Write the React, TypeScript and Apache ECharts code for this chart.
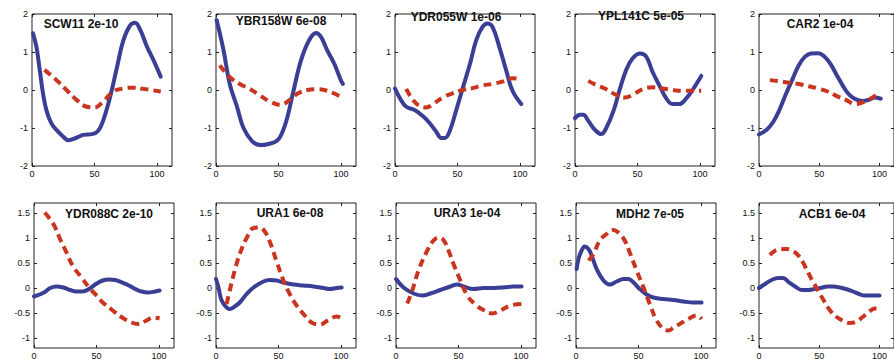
import React, { useEffect, useRef } from "react";
import * as echarts from "echarts";

// ---------- data ----------
const geneNames = ["SCW11", "YBR158W", "YDR055W", "YPL141C", "CAR2", "YDR088C", "URA1", "URA3", "MDH2", "ACB1"];
const pValues = ["2e-10", "6e-08", "1e-06", "5e-05", "1e-04", "2e-10", "6e-08", "1e-04", "7e-05", "6e-04"];
const xTickValues = [0, 50, 100];
const yTicksTop = [-2, -1, 0, 1, 2];
const yTicksBottom = [-1, -0.5, 0, 0.5, 1, 1.5];

const scw11Blue = [[0.8, 1.49], [3.5, 1.14], [6.2, 0.53], [8.8, -0.09], [11.5, -0.53], [15.5, -0.88], [19.6, -1.05], [25, -1.23], [29, -1.32], [36, -1.25], [41, -1.18], [48, -1.16], [53, -1.07], [57, -0.8], [62.5, -0.18], [68, 0.6], [73, 1.3], [78.5, 1.7], [82.5, 1.77], [86.6, 1.58], [92, 1.14], [97, 0.8], [103, 0.35]];
const scw11Red = [[10, 0.53], [19.6, 0.26], [27.6, 0], [35.6, -0.26], [43.7, -0.44], [50, -0.46], [57, -0.3], [65, -0.04], [73, 0.04], [81, 0.06], [89, 0.03], [103, -0.04]];

const ybr158wBlue = [[0.5, 1.84], [6, 1.05], [11, 0.16], [17, -0.46], [22, -1.0], [29, -1.35], [35.5, -1.45], [42, -1.42], [49, -1.33], [53, -1.12], [57, -0.73], [62, -0.02], [68, 0.78], [74.5, 1.31], [80, 1.5], [84, 1.4], [89, 1.04], [94.6, 0.69], [100, 0.25], [101.5, 0.16]];
const ybr158wRed = [[3, 0.65], [11, 0.34], [19, 0.16], [27, 0.03], [35.5, -0.15], [43.5, -0.31], [51.6, -0.39], [59.7, -0.24], [65, -0.1], [73, 0.0], [81, 0.02], [89, -0.02], [100, -0.18]];

const ydr055wBlue = [[0, 0.04], [4, -0.22], [9, -0.44], [16, -0.53], [22.5, -0.69], [28, -0.88], [33, -1.1], [37, -1.26], [40, -1.26], [44, -1.06], [49, -0.53], [54, 0.03], [60, 0.69], [65, 1.31], [70, 1.66], [74, 1.75], [78, 1.66], [83.5, 1.13], [89, 0.51], [94, -0.02], [101, -0.37]];
const ydr055wRed = [[9, 0.03], [14.5, -0.27], [21, -0.44], [25, -0.46], [30.5, -0.37], [38.5, -0.19], [46, -0.09], [54, 0.0], [62, 0.05], [70, 0.12], [78, 0.16], [86, 0.22], [94, 0.31], [101, 0.29]];

const ypl141cBlue = [[0, -0.74], [4, -0.65], [6.6, -0.65], [10.6, -0.81], [16, -1.05], [21, -1.16], [25, -1.0], [31, -0.53], [36, 0.04], [41, 0.53], [46, 0.83], [52, 0.96], [57, 0.88], [62, 0.48], [68, 0.09], [73, -0.22], [78, -0.37], [83.5, -0.37], [89, -0.22], [94, 0.0], [101, 0.37]];
const ypl141cRed = [[10.6, 0.24], [17, 0.13], [25, 0.02], [33, -0.13], [40, -0.2], [46, -0.13], [54, 0.02], [62, 0.07], [70, 0.04], [78, 0.0], [86, -0.02], [94, -0.02], [101, -0.02]];

const car2Blue = [[0, -1.17], [6.6, -1.04], [12, -0.83], [17, -0.52], [22, -0.13], [28, 0.3], [33, 0.65], [38, 0.87], [43, 0.96], [49, 0.97], [54, 0.89], [59, 0.7], [64.5, 0.39], [70, 0.09], [75, -0.13], [80, -0.24], [85.5, -0.29], [91, -0.26], [96, -0.2], [101, -0.23]];
const car2Red = [[9, 0.26], [17, 0.23], [25, 0.19], [33, 0.16], [41, 0.1], [49, 0.04], [57, -0.04], [64.5, -0.16], [72, -0.26], [80, -0.37], [85.5, -0.33], [91, -0.26], [96, -0.16], [100, -0.13]];

const ydr088cBlue = [[0, -0.17], [8, -0.09], [13, 0.0], [18, 0.03], [23.5, 0.01], [29, -0.04], [34, -0.07], [39, -0.07], [44, -0.02], [49.6, 0.08], [55, 0.15], [60, 0.17], [65, 0.16], [70.5, 0.11], [76, 0.05], [81, -0.02], [86, -0.07], [91, -0.09], [97, -0.07], [100.5, -0.05]];
const ydr088cRed = [[8.6, 1.51], [15.7, 1.27], [21, 0.97], [26, 0.71], [31, 0.44], [38, 0.21], [44, 0.01], [50, -0.15], [55, -0.29], [63, -0.45], [70.5, -0.59], [78, -0.69], [83.5, -0.72], [90, -0.65], [95, -0.59], [100.5, -0.61]];

const ura1Blue = [[0, 0.18], [2, 0.01], [4.5, -0.25], [8.5, -0.39], [11, -0.42], [15, -0.37], [19, -0.29], [24.5, -0.12], [30, 0.01], [38, 0.13], [43, 0.16], [48.5, 0.15], [54, 0.11], [62, 0.07], [70, 0.05], [78, 0.03], [86, 0.0], [91, -0.02], [96.5, 0.0], [100.5, 0.01]];
const ura1Red = [[8.5, -0.32], [11, -0.05], [15, 0.35], [19, 0.68], [24.5, 1.0], [30, 1.2], [35, 1.21], [39, 1.13], [43, 0.93], [48.5, 0.53], [54, 0.15], [59, -0.12], [64.5, -0.35], [70, -0.52], [76.5, -0.69], [83, -0.73], [90, -0.64], [96.5, -0.57], [100.5, -0.6]];

const ura3Blue = [[0, 0.18], [6, 0.01], [14, -0.11], [21, -0.15], [27.5, -0.11], [35.5, -0.04], [43.5, 0.03], [49, 0.07], [54, 0.03], [62, -0.02], [70, 0.0], [78, 0.0], [86, 0.01], [94, 0.03], [100.5, 0.03]];
const ura3Red = [[9, -0.31], [13, -0.05], [18, 0.35], [25, 0.75], [30, 0.95], [34, 1.01], [38, 0.96], [42, 0.75], [46, 0.48], [51.5, 0.15], [57, -0.15], [63.5, -0.33], [70, -0.44], [77, -0.51], [83.5, -0.45], [91.5, -0.35], [100.5, -0.32]];

const mdh2Blue = [[0.5, 0.38], [2, 0.58], [4.5, 0.75], [7, 0.83], [10, 0.78], [12.5, 0.65], [16.5, 0.38], [22, 0.15], [27, 0.07], [32.5, 0.13], [38, 0.18], [42, 0.18], [46, 0.11], [51, -0.02], [56.5, -0.13], [62, -0.19], [70, -0.22], [78, -0.24], [86, -0.27], [94, -0.29], [100.5, -0.29]];
const mdh2Red = [[10, 0.55], [14, 0.68], [19, 0.95], [24.5, 1.08], [30, 1.16], [35, 1.08], [39, 0.95], [43, 0.71], [48.5, 0.35], [54, 0.01], [59, -0.32], [64.5, -0.65], [70, -0.82], [74, -0.85], [78, -0.79], [83, -0.72], [90, -0.62], [96.5, -0.55], [100.5, -0.62]];

const acb1Blue = [[0, 0.0], [5, 0.08], [10.5, 0.16], [16, 0.2], [20, 0.2], [25, 0.11], [30, 0.03], [35.5, -0.04], [41, -0.04], [46, -0.02], [51, 0.0], [57, 0.03], [62, 0.03], [67, 0.01], [72, -0.02], [78, -0.07], [83, -0.12], [88, -0.15], [93, -0.15], [100, -0.15]];
const acb1Red = [[9, 0.66], [13, 0.74], [17, 0.77], [22, 0.78], [27.5, 0.75], [33, 0.64], [38, 0.44], [43.5, 0.18], [49, -0.05], [54, -0.26], [59, -0.45], [64.5, -0.58], [70, -0.66], [75, -0.7], [80, -0.68], [85.5, -0.59], [91, -0.48], [96, -0.41], [100, -0.41]];

const blueLines = [scw11Blue, ybr158wBlue, ydr055wBlue, ypl141cBlue, car2Blue, ydr088cBlue, ura1Blue, ura3Blue, mdh2Blue, acb1Blue];
const redLines = [scw11Red, ybr158wRed, ydr055wRed, ypl141cRed, car2Red, ydr088cRed, ura1Red, ura3Red, mdh2Red, acb1Red];

// ---------- layout / style ----------
const colLeftsTop = [32, 216, 395, 575, 759];
const colLeftsBottom = [34, 216, 396, 576, 759];
const titleCenters = [[81, 24], [281, 21], [456, 17], [641, 16], [820, 24], [109, 214], [290, 213], [467, 213], [650, 214], [832, 214]];
const BLUE = "#3a3e94";
const RED = "#c9351f";
const FONT = "'Liberation Sans', Arial, sans-serif";

function buildOption() {
  const grid: any[] = [];
  const xAxis: any[] = [];
  const yAxis: any[] = [];
  const series: any[] = [];
  const graphic: any[] = [];
  for (let i = 0; i < 10; i++) {
    const bottom = i >= 5;
    const col = i % 5;
    grid.push({
      left: bottom ? colLeftsBottom[col] : colLeftsTop[col],
      top: bottom ? 203 : 14,
      width: 140,
      height: bottom ? 145 : 152,
      show: true,
      borderColor: "#222",
      borderWidth: 1,
      backgroundColor: "transparent",
    });
    const yTicks = bottom ? yTicksBottom : yTicksTop;
    const tickCommon = { inside: true, length: 3, lineStyle: { color: "#222", width: 1 } };
    const lineHidden = { show: false, onZero: false };
    xAxis.push({
      type: "value", gridIndex: i, min: 0, max: 112, position: "bottom",
      axisLine: lineHidden, splitLine: { show: false },
      axisTick: { ...tickCommon, customValues: xTickValues },
      axisLabel: { customValues: xTickValues, fontSize: 9, color: "#111", margin: 3, fontFamily: FONT },
    });
    xAxis.push({
      type: "value", gridIndex: i, min: 0, max: 112, position: "top",
      axisLine: lineHidden, splitLine: { show: false },
      axisTick: { ...tickCommon, customValues: xTickValues },
      axisLabel: { show: false },
    });
    yAxis.push({
      type: "value", gridIndex: i, min: bottom ? -1.2 : -2, max: bottom ? 1.7 : 2, position: "left",
      axisLine: lineHidden, splitLine: { show: false },
      axisTick: { ...tickCommon, customValues: yTicks },
      axisLabel: { customValues: yTicks, fontSize: 9, color: "#111", margin: 4, fontFamily: FONT },
    });
    yAxis.push({
      type: "value", gridIndex: i, min: bottom ? -1.2 : -2, max: bottom ? 1.7 : 2, position: "right",
      axisLine: lineHidden, splitLine: { show: false },
      axisTick: { ...tickCommon, customValues: yTicks },
      axisLabel: { show: false },
    });
    series.push({
      type: "line", xAxisIndex: 2 * i, yAxisIndex: 2 * i, data: blueLines[i],
      smooth: 0.4, symbol: "none", showSymbol: false,
      lineStyle: { color: BLUE, width: 4, cap: "round" },
    });
    series.push({
      type: "line", xAxisIndex: 2 * i, yAxisIndex: 2 * i, data: redLines[i],
      smooth: 0.4, symbol: "none", showSymbol: false,
      lineStyle: { color: RED, width: 4, type: [8, 5] },
    });
    graphic.push({
      type: "text",
      x: titleCenters[i][0],
      y: titleCenters[i][1],
      z: 100,
      style: {
        text: geneNames[i] + " " + pValues[i],
        fill: "#111",
        font: "bold 12px " + FONT,
        align: "center",
        verticalAlign: "middle",
        textAlign: "center",
        textVerticalAlign: "middle",
      },
    });
  }
  return {
    animation: false,
    backgroundColor: "#ffffff",
    grid, xAxis, yAxis, series, graphic,
  };
}

export default function App() {
  const ref = useRef<HTMLDivElement>(null);
  useEffect(() => {
    if (!ref.current) return;
    const chart = echarts.init(ref.current, undefined, { renderer: "svg" });
    chart.setOption(buildOption() as any);
    return () => chart.dispose();
  }, []);
  return (
    <div
      ref={ref}
      style={{ position: "fixed", left: 0, top: 0, width: 894, height: 360, background: "#fff" }}
    />
  );
}
